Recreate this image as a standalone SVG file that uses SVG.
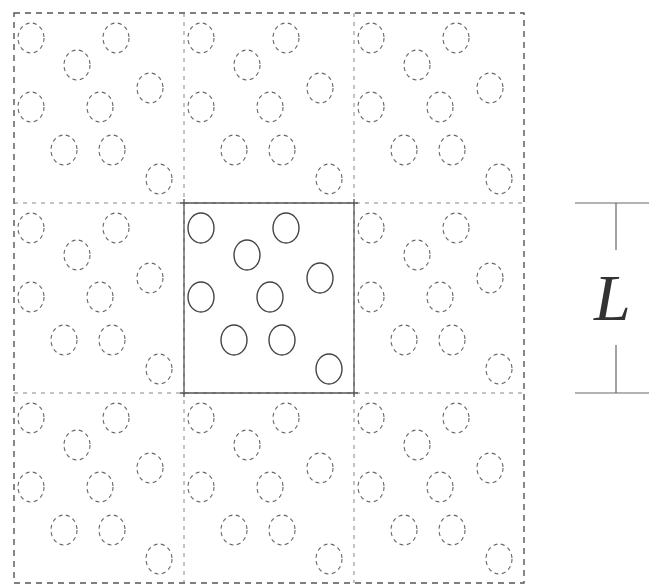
<svg xmlns="http://www.w3.org/2000/svg" xmlns:xlink="http://www.w3.org/1999/xlink" width="649" height="586" viewBox="0 0 649 586">
<style>
.bg{fill:#ffffff}
.ghost{fill:none;stroke:#666;stroke-width:1.1;stroke-dasharray:4 3.5}
.real{fill:none;stroke:#444;stroke-width:1.4}
.grid{fill:none;stroke:#888;stroke-width:1;stroke-dasharray:4 5}
.outer{fill:none;stroke:#555;stroke-width:1.4;stroke-dasharray:6 5}
.solid{fill:none;stroke:#555;stroke-width:1.3}
.dim{fill:none;stroke:#666;stroke-width:1.2}
.lbl{font-family:"Liberation Serif","DejaVu Serif",serif;font-style:italic;font-size:66px;fill:#333}
</style>
<defs>
<g id="parts">
<ellipse cx="17" cy="25" rx="13" ry="15"/>
<ellipse cx="102" cy="25" rx="13" ry="15"/>
<ellipse cx="63" cy="52" rx="13" ry="15"/>
<ellipse cx="136" cy="75" rx="13" ry="15"/>
<ellipse cx="17" cy="94" rx="13" ry="15"/>
<ellipse cx="86" cy="94" rx="13" ry="15"/>
<ellipse cx="50" cy="137" rx="13" ry="15"/>
<ellipse cx="98" cy="137" rx="13" ry="15"/>
<ellipse cx="145" cy="166" rx="13" ry="15"/>
</g>
</defs>
<rect class="bg" x="0" y="0" width="649" height="586"/>
<g id="cell-tl" class="ghost"><use xlink:href="#parts" href="#parts" transform="translate(14,13)"/></g>
<g id="cell-tc" class="ghost"><use xlink:href="#parts" href="#parts" transform="translate(184,13)"/></g>
<g id="cell-tr" class="ghost"><use xlink:href="#parts" href="#parts" transform="translate(354,13)"/></g>
<g id="cell-ml" class="ghost"><use xlink:href="#parts" href="#parts" transform="translate(14,203)"/></g>
<g id="cell-center" class="real"><use xlink:href="#parts" href="#parts" transform="translate(184,203)"/></g>
<g id="cell-mr" class="ghost"><use xlink:href="#parts" href="#parts" transform="translate(354,203)"/></g>
<g id="cell-bl" class="ghost"><use xlink:href="#parts" href="#parts" transform="translate(14,393)"/></g>
<g id="cell-bc" class="ghost"><use xlink:href="#parts" href="#parts" transform="translate(184,393)"/></g>
<g id="cell-br" class="ghost"><use xlink:href="#parts" href="#parts" transform="translate(354,393)"/></g>
<g id="grid-lines">
<line class="grid" x1="184" y1="13" x2="184" y2="583"/>
<line class="grid" x1="354" y1="13" x2="354" y2="583"/>
<line class="grid" x1="14" y1="203" x2="524" y2="203"/>
<line class="grid" x1="14" y1="393" x2="524" y2="393"/>
<rect class="outer" x="14" y="13" width="510" height="570"/>
<line class="solid" x1="180" y1="203" x2="358" y2="203"/>
<line class="solid" x1="180" y1="393" x2="358" y2="393"/>
<line class="solid" x1="184" y1="199" x2="184" y2="397"/>
<line class="solid" x1="354" y1="199" x2="354" y2="397"/>
</g>
<g id="dimension">
<line class="dim" x1="575" y1="203" x2="649" y2="203"/>
<line class="dim" x1="616" y1="203" x2="616" y2="250"/>
<line class="dim" x1="616" y1="345" x2="616" y2="393"/>
<line class="dim" x1="575" y1="393" x2="649" y2="393"/>
<text class="lbl" x="594" y="320">L</text>
</g>
</svg>
